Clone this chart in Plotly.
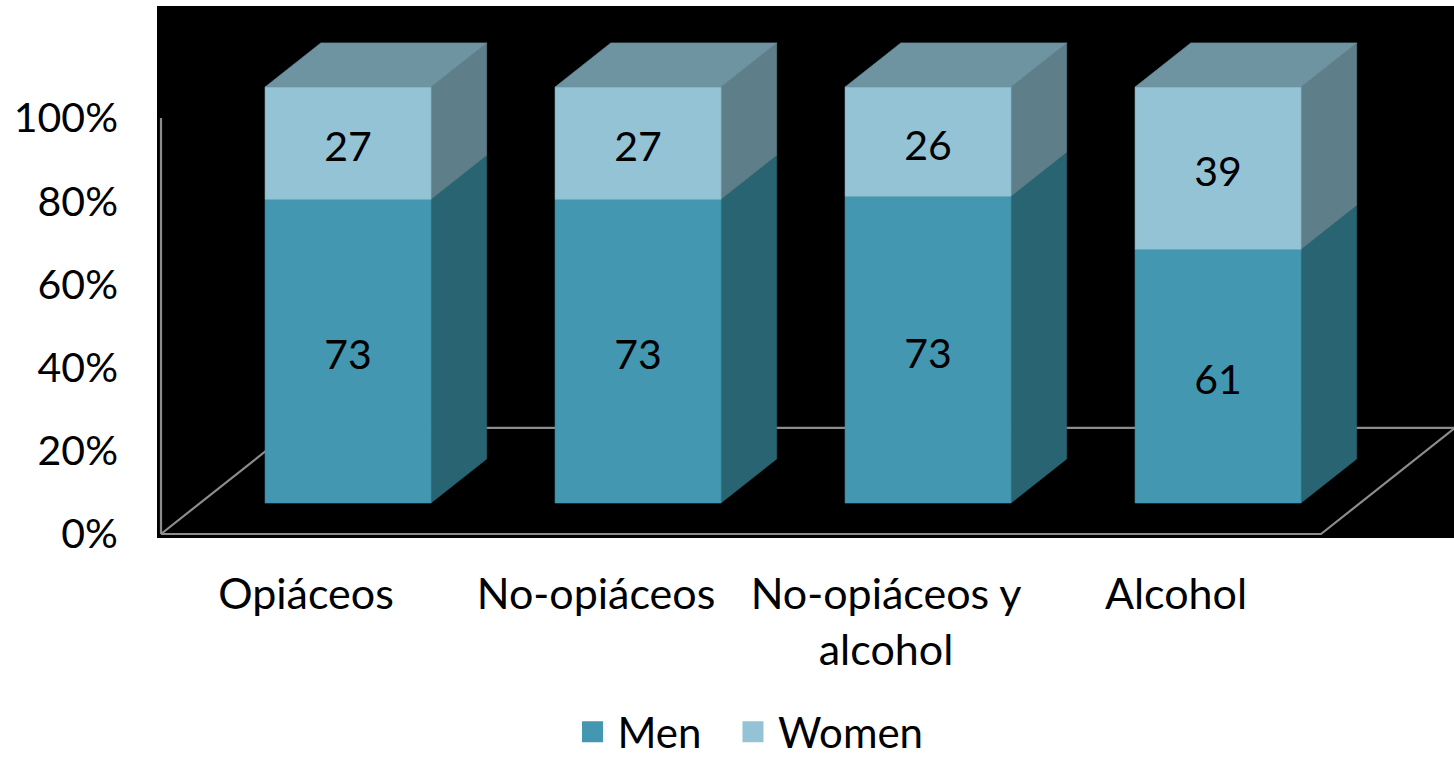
import plotly.graph_objects as go

# ---- data ----
categories = ["Opiáceos", "No-opiáceos", "No-opiáceos y<br>alcohol", "Alcohol"]
men = [73, 73, 73, 61]
women = [27, 27, 26, 39]
series_names = ["Men", "Women"]
y_ticks = [0, 20, 40, 60, 80, 100]
y_tick_text = ["0%", "20%", "40%", "60%", "80%", "100%"]

# ---- style ----
FONT = "Lato"
FS = 41
FSX = 43
FSL = 42
C_MEN_FRONT = "#4397B0"
C_MEN_SIDE = "#286472"
C_WOM_FRONT = "#93C3D5"
C_WOM_SIDE = "#5E7F8A"
C_TOP = "#6E93A1"
C_GRID = "#8C8C8C"

# oblique projection of depth (in axis units)
DX = 0.462      # category units per full depth
DY = 25.5       # percent units per full depth
D_FRONT, D_BACK = 0.292, 0.708
HW = 0.286      # bar half width
BAR_SHIFT = 0.01
LABEL_DROP = 1.9  # percent units: data labels sit slightly below face centre

fig = go.Figure()

def proj(x, y, d):
    return x + d * DX, y + d * DY

def poly(pts, color):
    xs = [p[0] for p in pts] + [pts[0][0]]
    ys = [p[1] for p in pts] + [pts[0][1]]
    fig.add_trace(go.Scatter(x=xs, y=ys, mode="lines", fill="toself",
                             fillcolor=color, line=dict(color=color, width=0.6),
                             hoverinfo="skip", showlegend=False))

def line(pts):
    fig.add_trace(go.Scatter(x=[p[0] for p in pts], y=[p[1] for p in pts], mode="lines",
                             line=dict(color=C_GRID, width=2.2),
                             hoverinfo="skip", showlegend=False))

n = len(categories)
# floor and value axis
x_lo, x_hi = -0.5, n - 0.5
line([proj(x_lo, 0, 0), proj(x_hi, 0, 0), proj(x_hi, 0, 1), proj(x_lo, 0, 1), proj(x_lo, 0, 0)])
line([proj(x_lo, 0, 0), proj(x_lo, 100, 0)])

lab_x, lab_y, lab_t = [], [], []
for i in range(n):
    tot = men[i] + women[i]
    m = men[i] / tot * 100
    xc = i + BAR_SHIFT
    x0, x1 = xc - HW, xc + HW
    for (y0, y1, cf, cs, val) in [(0, m, C_MEN_FRONT, C_MEN_SIDE, men[i]),
                                  (m, 100, C_WOM_FRONT, C_WOM_SIDE, women[i])]:
        poly([proj(x1, y0, D_FRONT), proj(x1, y0, D_BACK), proj(x1, y1, D_BACK), proj(x1, y1, D_FRONT)], cs)
        poly([proj(x0, y0, D_FRONT), proj(x1, y0, D_FRONT), proj(x1, y1, D_FRONT), proj(x0, y1, D_FRONT)], cf)
        cx, cy = proj(xc, (y0 + y1) / 2 - LABEL_DROP, D_FRONT)
        lab_x.append(cx); lab_y.append(cy); lab_t.append(str(val))
    poly([proj(x0, 100, D_FRONT), proj(x1, 100, D_FRONT), proj(x1, 100, D_BACK), proj(x0, 100, D_BACK)], C_TOP)

fig.add_trace(go.Scatter(x=lab_x, y=lab_y, text=lab_t, mode="text",
                         textfont=dict(family=FONT, size=FS, color="black"),
                         hoverinfo="skip", showlegend=False))

# legend entries (non-breaking spaces widen the gap between entries)
for name, col, pad in [(series_names[0], C_MEN_FRONT, "\u00a0\u00a0"),
                       (series_names[1], C_WOM_FRONT, "")]:
    fig.add_trace(go.Scatter(x=[None], y=[None], mode="markers", name=name + pad,
                             marker=dict(symbol="square", size=16, color=col,
                                         line=dict(color=col, width=5))))

# layout geometry
L, T, W, H = 157, 6, 1454, 757
PW, PH = 1297, 532
px_per_cat = 290.0
px_per_pct = 4.16
x_left = -0.5 - 4 / px_per_cat
y_bottom = -4 / px_per_pct

fig.update_layout(
    width=W, height=H,
    margin=dict(l=L, r=W - L - PW, t=T, b=H - T - PH, pad=0),
    paper_bgcolor="white", plot_bgcolor="black",
    font=dict(family=FONT, size=FS, color="black"),
    xaxis=dict(range=[x_left, x_left + PW / px_per_cat], tickmode="array",
               tickvals=list(range(n)), ticktext=categories, showgrid=False,
               zeroline=False, showline=False, ticks="", ticklabelstandoff=27,
               tickfont=dict(family=FONT, size=FSX)),
    yaxis=dict(range=[y_bottom, y_bottom + PH / px_per_pct], tickmode="array",
               tickvals=y_ticks, ticktext=y_tick_text, showgrid=False,
               zeroline=False, showline=False, ticks="", ticklabelstandoff=38,
               tickfont=dict(family=FONT, size=FS)),
    legend=dict(orientation="h", xref="container", yref="container",
                x=748 / W, xanchor="center", y=1 - 732 / H, yanchor="middle",
                font=dict(family=FONT, size=FSL), itemsizing="trace", itemwidth=40,
                bgcolor="rgba(0,0,0,0)"),
    showlegend=True,
)

fig.write_html("out.html", config={"displayModeBar": False},
               post_script="document.body.style.margin='0';document.body.style.overflow='hidden';")
